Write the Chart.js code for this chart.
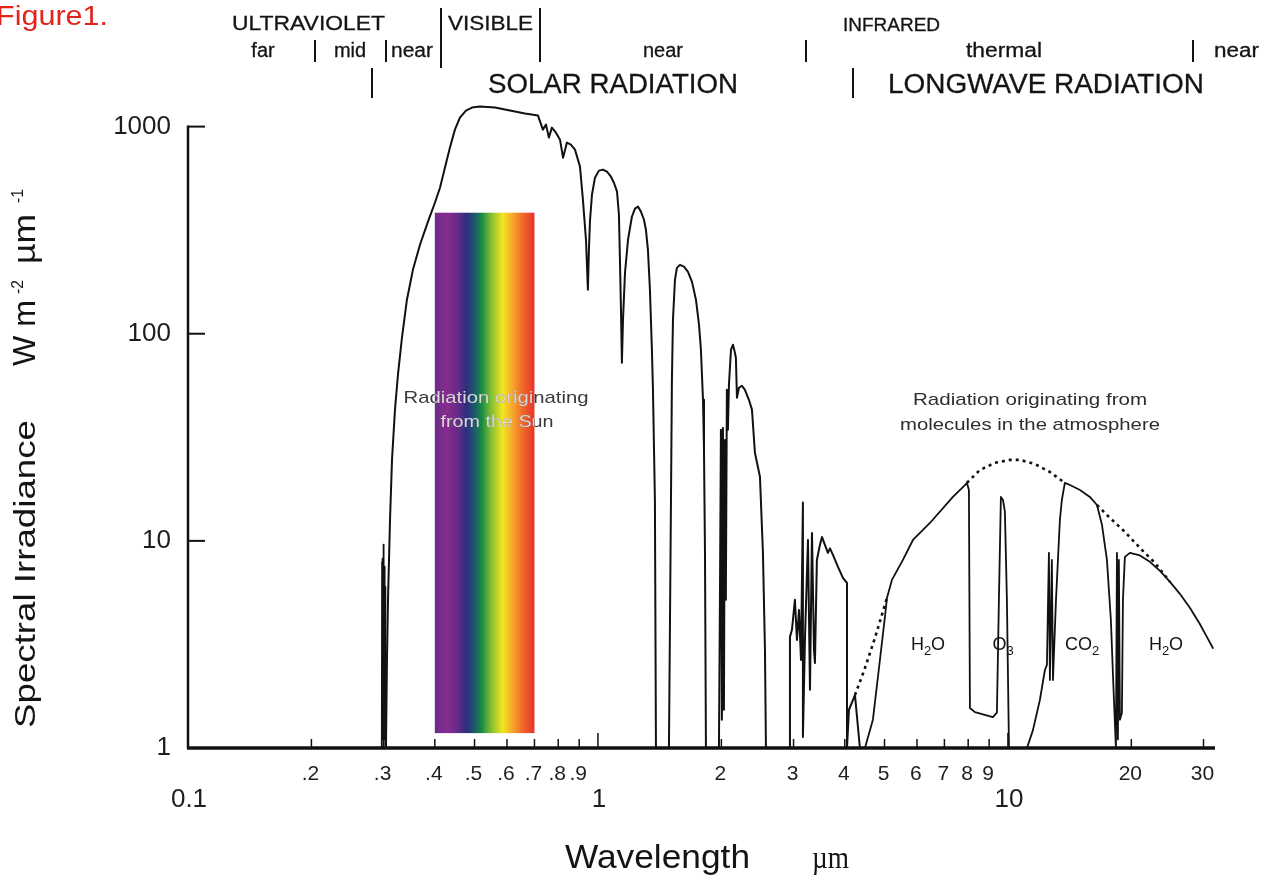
<!DOCTYPE html>
<html><head><meta charset="utf-8">
<script src="https://cdn.jsdelivr.net/npm/chart.js@4.4.1/dist/chart.umd.min.js"></script>
<style>html,body{margin:0;padding:0;background:#fff;}canvas{display:block;}</style>
</head><body>
<canvas id="c" width="1265" height="878"></canvas>
<script>
// ---------------- data ----------------
const uvWavelength = [0.297,0.2975,0.298,0.2985,0.299,0.2995,0.300,0.3005,0.301,0.3015,0.302,0.3025,0.303];
const uvIrradiance = [1,7.9,1.2,8.2,1.1,9.6,1.3,8.8,1.2,7.5,1.5,6.0,1];

const solarWavelength = [
 0.304,0.3057,0.3075,0.311,0.3145,0.3198,0.3252,0.3326,0.342,0.3538,0.368,0.3849,0.4002,0.4118,0.4235,0.4355,0.4478,0.4606,0.4764,0.4928,
 0.5155,0.5608,0.610,0.6637,0.7141,
 0.734,0.747,0.759,0.772,0.790,0.808,0.822,0.840,0.859,0.879,0.904,0.919,0.935,0.945,
 0.9506,0.956,0.9669,0.9833,1.0056,1.0285,1.0518,1.0757,1.094,1.113,1.125,1.131,1.138,1.144,
 1.151,1.164,1.184,1.210,1.231,1.252,1.273,1.295,1.309,1.324,1.339,1.354,1.362,1.377,1.385,
 1.490,1.507,1.515,1.524,1.541,1.558,1.585,1.621,1.658,1.696,1.734,1.764,1.783,1.804,1.814,1.824,1.834,
 1.973,1.984,1.995,2.006,2.018,2.029,2.040,2.051,2.063,2.075,2.087,2.111,2.135,2.158,2.170,2.183,2.207,2.245,2.283,2.335,
 2.375,2.415,2.484,2.526,2.555,2.569,
 2.940,2.940,2.973,3.023,3.058,3.093,3.128,3.162,3.162,3.198,3.253,3.290,3.327,3.365,3.383,3.420,3.479,3.519,3.578,3.639,
 3.681,3.743,3.850,3.959,4.050,4.050,4.095,4.236,4.355
];
const solarIrradiance = [
 1,2.66,5.19,12.6,24.6,43,63.4,95.7,146,204,269,348,429,507,634,792,967,1105,1195,1236,
 1249,1236,1195,1156,1130,
 967,1022,885,989,935,865,708,837,818,774,641,444,284,163,
 255,348,469,567,613,620,606,573,536,485,376,236,131,72.4,
 116.8,197,284.5,367,402,411,388.6,355,318,255,163,83.7,53.6,15.8,1,
 1,15.8,60,116.8,182,208,215,211,199,178,146,110.5,83.7,48,27.5,9.05,1,
 1,5.19,34.4,1.37,35.1,1.53,30.7,5.19,53.6,34.4,56.7,83.7,88.5,81,76.6,49.1,54.8,56.1,53.6,48,
 43,26.6,20.4,8.75,2.97,1,
 1,3.44,3.72,5.19,3.32,4.64,2.66,15.3,1.13,3.32,10.1,1.91,10.9,2.97,2.57,8.09,9.56,10.45,9.56,8.75,
 9.2,8.56,7.49,6.63,6.27,1,1.53,1.80,1
];

const earthWavelength = [
 4.480,4.685,4.873,5.012,5.069,5.213,5.545,5.866,6.453,7.342,7.855,7.943,8.033,8.079,8.309,9.192,9.401,9.507,9.614,9.723,
 9.833,9.944,10.06,11.13,11.51,11.97,12.31,12.45,12.59,12.66,12.80,12.88,13.10,13.39,13.54,13.77,14.17,14.99,15.85,16.49,
 16.96,17.44,17.83,18.14,18.34,18.45,18.55,18.65,18.76,18.97,19.08,19.29,19.84,20.99,22.20,23.49,24.85,26.27,27.79,29.39,
 30.57,31.62
];
const earthIrradiance = [
 1,1.37,2.66,4.29,5.30,6.48,8.09,10.1,12.2,16.3,18.6,19.06,17.6,1.56,1.49,1.41,1.48,5.19,16.3,15.8,
 13.8,5.19,1,1,1.22,1.71,2.38,2.52,8.75,2.13,8.09,2.13,5.19,12.6,15.8,19.06,18.6,17.6,16.3,14.9,
 11.95,8.09,4.15,1.71,1,8.75,1.1,8.09,1.37,1.48,5.19,8.37,8.75,8.5,7.92,7.16,6.34,5.55,4.75,3.97,
 3.44,3.04
];

// unabsorbed (blackbody) envelope, gaps where it coincides with the solid curve
const envelopeWavelength = [4.236,4.48,4.739,5.069, 6.0, 7.943,8.546,9.297,10.11,10.70,11.64,12.66,13.77, 15.0, 16.49,17.74,19.29,20.99,22.84,24.85];
const envelopeIrradiance = [1.80,2.43,3.40,5.30, null, 19.06,22.0,23.8,24.6,24.6,23.5,21.5,19.06, null, 14.9,12.9,11.05,9.25,7.83,6.34];

// visible band (rainbow) extent
const visibleBandWavelength = [0.4, 0.7];
const visibleBandIrradiance = [1.18, 384];

// ticks
const xTickValues = [0.1,0.2,0.3,0.4,0.5,0.6,0.7,0.8,0.9,1,2,3,4,5,6,7,8,9,10,20,30];
const xTickLabels = ['0.1','.2','.3','.4','.5','.6','.7','.8','.9','1','2','3','4','5','6','7','8','9','10','20','30'];
const xMajorTicks = [0.1, 1, 10];
const yTickValues = [1,10,100,1000];
const yTickLabels = ['1','10','100','1000'];

// gas absorption band labels [main, subscript, tail]
const absorptionLabels = [['H','2','O'],['O','3',''],['CO','2',''],['H','2','O']];

// ---------------- helpers ----------------
const SANS = '"Liberation Sans", Arial, Helvetica, sans-serif';
const SERIF = '"Liberation Serif", "Times New Roman", serif';
function zip(a,b){ return a.map((v,i)=>({x:v,y:b[i]})); }

function fitText(ctx, txt, x, y, size, width, o){
  o = o || {};
  ctx.save();
  ctx.font = (o.weight||'normal') + ' ' + size + 'px ' + (o.family||SANS);
  ctx.fillStyle = o.color || '#141414';
  ctx.textBaseline = o.baseline || 'alphabetic';
  ctx.textAlign = 'left';
  const w = ctx.measureText(txt).width;
  const sx = width ? width / w : 1;
  const W = w * sx;
  const x0 = o.align === 'center' ? x - W/2 : (o.align === 'right' ? x - W : x);
  ctx.translate(x0, y);
  ctx.scale(sx, 1);
  ctx.fillText(txt, 0, 0);
  if (o.stroke) { ctx.strokeStyle = ctx.fillStyle; ctx.lineWidth = o.stroke; ctx.strokeText(txt, 0, 0); }
  ctx.restore();
  return W;
}

function chemLabel(ctx, parts, cx, y, size){
  ctx.save();
  const f1 = size + 'px ' + SANS, f2 = Math.round(size*0.72) + 'px ' + SANS;
  ctx.font = f1; const w1 = ctx.measureText(parts[0]).width, w3 = ctx.measureText(parts[2]).width;
  ctx.font = f2; const w2 = ctx.measureText(parts[1]).width;
  let x = cx - (w1+w2+w3)/2;
  ctx.fillStyle = '#141414'; ctx.textBaseline = 'alphabetic';
  ctx.font = f1; ctx.fillText(parts[0], x, y); x += w1;
  ctx.font = f2; ctx.fillText(parts[1], x, y + size*0.3); x += w2;
  ctx.font = f1; ctx.fillText(parts[2], x, y);
  ctx.restore();
}

function vbar(ctx, x, y0, y1){
  ctx.save(); ctx.strokeStyle = '#141414'; ctx.lineWidth = 2;
  ctx.beginPath(); ctx.moveTo(x, y0); ctx.lineTo(x, y1); ctx.stroke(); ctx.restore();
}

// ---------------- plugin ----------------
const decor = {
  id: 'decor',
  beforeDatasetsDraw(chart){
    const {ctx, scales:{x, y}} = chart;
    const x0 = x.getPixelForValue(visibleBandWavelength[0]), x1 = x.getPixelForValue(visibleBandWavelength[1]);
    const yt = y.getPixelForValue(visibleBandIrradiance[1]), yb = y.getPixelForValue(visibleBandIrradiance[0]);
    const g = ctx.createLinearGradient(x0, 0, x1, 0);
    [[0,'#6a2c8a'],[0.12,'#872b8e'],[0.22,'#6a2a88'],[0.32,'#2c2f7d'],[0.40,'#1d5a6c'],[0.47,'#168a42'],
     [0.56,'#7cbc36'],[0.68,'#f3e51e'],[0.78,'#f6a72c'],[0.88,'#f06a2a'],[1,'#e8322a']].forEach(s=>g.addColorStop(s[0], s[1]));
    ctx.save(); ctx.fillStyle = g; ctx.fillRect(x0, yt, x1-x0, yb-yt); ctx.restore();
  },
  afterDraw(chart){
    const {ctx, scales:{x, y}} = chart;
    const xl = x.getPixelForValue(0.1), xr = chart.chartArea.right;
    const yb = y.getPixelForValue(1), yt = y.getPixelForValue(1000);
    ctx.save();
    ctx.strokeStyle = '#111'; ctx.lineCap = 'butt';
    ctx.lineWidth = 2.5; ctx.beginPath(); ctx.moveTo(xl, yb); ctx.lineTo(xl, yt-1); ctx.stroke();
    ctx.lineWidth = 3.5; ctx.beginPath(); ctx.moveTo(xl-1, yb); ctx.lineTo(xr, yb); ctx.stroke();
    ctx.lineWidth = 2;
    yTickValues.forEach(v=>{ if (v===1) return; const p = y.getPixelForValue(v);
      ctx.beginPath(); ctx.moveTo(xl, p); ctx.lineTo(xl+17, p); ctx.stroke(); });
    ctx.lineWidth = 1.5;
    xTickValues.forEach(v=>{ if (v===0.1) return; const p = x.getPixelForValue(v);
      const len = xMajorTicks.includes(v) ? 15 : 9;
      ctx.beginPath(); ctx.moveTo(p, yb); ctx.lineTo(p, yb-len); ctx.stroke(); });
    ctx.restore();
    xTickValues.forEach((v,i)=>{
      const p = x.getPixelForValue(v);
      if (xMajorTicks.includes(v)) fitText(ctx, xTickLabels[i], p+1, 807, 26, null, {align:'center', color:'#1e1e1e'});
      else fitText(ctx, xTickLabels[i], p-1, 780, 21, null, {align:'center', color:'#1e1e1e'});
    });
    yTickValues.forEach((v,i)=>{
      const p = y.getPixelForValue(v);
      fitText(ctx, yTickLabels[i], 171, p, 26, null, {align:'right', baseline:'middle', color:'#1e1e1e'});
    });

    // axis titles
    fitText(ctx, 'Wavelength', 565, 868, 33, 185);
    fitText(ctx, 'µm', 812, 868, 32, 37, {family:SERIF});
    ctx.save(); ctx.translate(35, 0); ctx.rotate(-Math.PI/2);
    fitText(ctx, 'Spectral Irradiance', -728, 0, 30, 308);
    fitText(ctx, 'W m', -366, 0, 31, 66);
    fitText(ctx, '-2', -294, -12, 17, 14);
    fitText(ctx, 'µm', -264, 0, 31, 50);
    fitText(ctx, '-1', -203, -12, 17, 14);
    ctx.restore();

    // header
    fitText(ctx, 'Figure1.', -4, 25, 28, 112, {color:'#e3241b'});
    fitText(ctx, 'ULTRAVIOLET', 232, 30, 21, 153, {stroke:0.3});
    fitText(ctx, 'VISIBLE', 448, 30, 21, 85, {stroke:0.3});
    fitText(ctx, 'INFRARED', 843, 31, 18, 97, {stroke:0.3});
    fitText(ctx, 'far', 263, 57, 20, null, {align:'center', stroke:0.3});
    fitText(ctx, 'mid', 350, 57, 20, null, {align:'center', stroke:0.3});
    fitText(ctx, 'near', 391, 57, 20, 42, {stroke:0.3});
    fitText(ctx, 'near', 663, 57, 20, null, {align:'center', stroke:0.3});
    fitText(ctx, 'thermal', 1004, 57, 20, 76, {align:'center', stroke:0.3});
    fitText(ctx, 'near', 1214, 57, 20, 45, {stroke:0.3});
    fitText(ctx, 'SOLAR RADIATION', 488, 93, 27, 250, {stroke:0.3});
    fitText(ctx, 'LONGWAVE RADIATION', 888, 93, 27, 316, {stroke:0.3});
    vbar(ctx, 441, 8, 68); vbar(ctx, 540, 8, 62);
    vbar(ctx, 315, 40, 62); vbar(ctx, 386, 40, 62);
    vbar(ctx, 806, 40, 62); vbar(ctx, 1193, 40, 62);
    vbar(ctx, 372, 68, 98); vbar(ctx, 853, 68, 98);

    // annotations
    const drawSun = (col, alpha) => {
      ctx.save(); ctx.globalAlpha = alpha;
      fitText(ctx, 'Radiation originating', 496, 403, 17, 185, {align:'center', color:col});
      fitText(ctx, 'from the Sun', 497, 427, 17, 113, {align:'center', color:col});
      ctx.restore();
    };
    drawSun('#3a3a3a', 1);
    const bx0 = x.getPixelForValue(visibleBandWavelength[0]), bx1 = x.getPixelForValue(visibleBandWavelength[1]);
    const by0 = y.getPixelForValue(visibleBandIrradiance[1]), by1 = y.getPixelForValue(visibleBandIrradiance[0]);
    ctx.save(); ctx.beginPath(); ctx.rect(bx0, by0, bx1-bx0, by1-by0); ctx.clip();
    drawSun('#ffffff', 0.8); ctx.restore();

    fitText(ctx, 'Radiation originating from', 1030, 405, 17, 234, {align:'center', color:'#2e2e2e'});
    fitText(ctx, 'molecules in the atmosphere', 1030, 430, 17, 260, {align:'center', color:'#2e2e2e'});

    const labelX = [928, 1003, 1082, 1166];
    absorptionLabels.forEach((p,i)=>chemLabel(ctx, p, labelX[i], 650, 18));
  }
};

// ---------------- chart ----------------
const lineStyle = {borderColor:'#111', borderWidth:2, pointRadius:0, tension:0, fill:false,
                   borderJoinStyle:'round', borderCapStyle:'round'};
new Chart(document.getElementById('c'), {
  type: 'line',
  data: { datasets: [
    Object.assign({label:'UV', data: zip(uvWavelength, uvIrradiance)}, lineStyle, {borderWidth:1.8}),
    Object.assign({label:'Solar', data: zip(solarWavelength, solarIrradiance)}, lineStyle),
    Object.assign({label:'Longwave', data: zip(earthWavelength, earthIrradiance)}, lineStyle, {borderWidth:1.8}),
    Object.assign({label:'Envelope', data: zip(envelopeWavelength, envelopeIrradiance)}, lineStyle,
                  {borderWidth:2.6, borderDash:[3,4], borderCapStyle:'butt', spanGaps:false})
  ]},
  options: {
    responsive: false, animation: false,
    layout: { padding: {left:0, right:50, top:103, bottom:0} },
    plugins: { legend:{display:false}, tooltip:{enabled:false} },
    scales: {
      x: { type:'logarithmic', min:0.1, max:32, bounds:'data',
           grid:{display:false}, border:{display:false}, ticks:{display:false},
           afterFit: s => { s.height = 130; } },
      y: { type:'logarithmic', min:1, max:1300, bounds:'data',
           grid:{display:false}, border:{display:false}, ticks:{display:false},
           afterFit: s => { s.width = 188; } }
    }
  },
  plugins: [decor]
});
</script>
</body></html>
